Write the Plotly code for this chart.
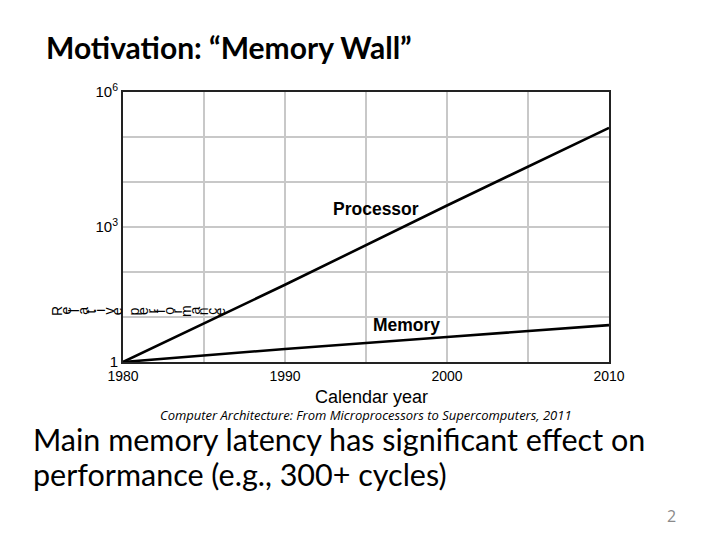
import plotly.graph_objects as go

years = [1980, 1990, 2000, 2010]
processor = [1, 52, 3000, 160000]
memory = [1, 1.95, 3.6, 6.6]

x_ticks = [1980, 1985, 1990, 1995, 2000, 2005, 2010]
x_ticktext = ["1980", "", "1990", "", "2000", "", "2010"]
y_ticks = [1, 10, 100, 1000, 1e4, 1e5, 1e6]
y_ticktext = ["1", "", "", "10<sup>3</sup>", "", "", "10<sup>6</sup>"]

y_label = "Relative performance"

W, H = 720, 540
OFF = 8  # page body margin
# plot area in screen pixels of the reference
SL, SR, ST, SB = 123, 609, 92, 362
L, R, T, B = SL - OFF, SR - OFF, ST - OFF, SB - OFF

fig = go.Figure()
fig.add_trace(go.Scatter(x=years, y=processor, mode="lines",
                         line=dict(color="black", width=2.6), showlegend=False))
fig.add_trace(go.Scatter(x=years, y=memory, mode="lines",
                         line=dict(color="black", width=2.6), showlegend=False))

chart_font = "Liberation Sans, Arial, sans-serif"

fig.update_layout(
    width=W, height=H,
    margin=dict(l=L, r=W - R, t=T, b=H - B, pad=0),
    paper_bgcolor="white", plot_bgcolor="white",
    xaxis=dict(range=[1980, 2010], tickvals=x_ticks, ticktext=x_ticktext,
               showgrid=True, gridcolor="#c8c8c8", gridwidth=1.5,
               showline=True, linecolor="#222", linewidth=2, mirror=True,
               ticks="", tickfont=dict(family=chart_font, size=14, color="black"),
               zeroline=False, fixedrange=True),
    yaxis=dict(type="log", range=[0, 6], tickvals=y_ticks, ticktext=y_ticktext,
               showgrid=True, gridcolor="#c8c8c8", gridwidth=1.5,
               showline=True, linecolor="#222", linewidth=2, mirror=True,
               ticks="", tickfont=dict(family=chart_font, size=15, color="black"),
               zeroline=False, fixedrange=True),
)

ann = []
ann.append(dict(text="<b>Processor</b>", x=1995.6, y=3.4, xref="x", yref="y",
                showarrow=False, font=dict(family=chart_font, size=17.5, color="black")))
ann.append(dict(text="<b>Memory</b>", x=1997.5, y=0.82, xref="x", yref="y",
                showarrow=False, font=dict(family=chart_font, size=17.5, color="black")))


def px(xs):
    return (xs - SL) / (SR - SL)


def py(ys):
    return (SB - ys) / (SB - ST)


def text_at(text, xs, ys, font, xanchor="center", **kw):
    ann.append(dict(text=text, x=px(xs), y=py(ys), xref="paper", yref="paper",
                    xanchor=xanchor, yanchor="middle", showarrow=False, font=font, **kw))


text_at("Calendar year", 371, 397, dict(family=chart_font, size=18, color="black"))

# garbled rotated axis label, one glyph at a time
x0, step = 57, 8.6
for i, ch in enumerate(y_label):
    if ch == " ":
        continue
    text_at(ch, x0 + i * step, 311, dict(family=chart_font, size=14, color="black"),
            textangle=-90)

text_at("<b>Motivation: “Memory Wall”</b>", 44, 47,
        dict(family="Lato, sans-serif", size=30, color="black"), xanchor="left")
text_at("<i>Computer Architecture: From Microprocessors to Supercomputers, 2011</i>", 366, 415,
        dict(family="Open Sans, sans-serif", size=13, color="black"))
text_at("Main memory latency has significant effect on", 31, 439,
        dict(family="Lato, sans-serif", size=30.5, color="black"), xanchor="left")
text_at("performance (e.g., 300+ cycles)", 31, 474,
        dict(family="Lato, sans-serif", size=30.5, color="black"), xanchor="left")
text_at("2", 671, 516, dict(family="Open Sans, sans-serif", size=16, color="#8a8a8a"))

fig.update_layout(annotations=ann)
fig.write_html("out.html")
